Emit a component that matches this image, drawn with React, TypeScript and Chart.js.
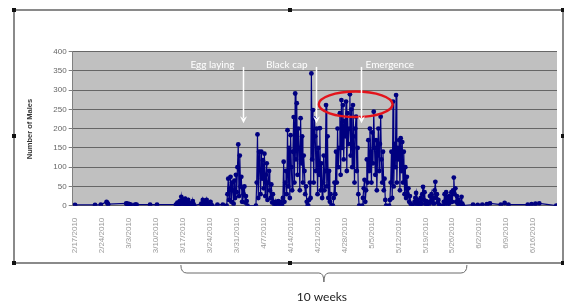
import React, { useEffect, useRef } from 'react';
import { Chart, registerables } from 'chart.js';

Chart.register(...registerables);

// ---- Data ----
const weekLabels = [
  '2/17/2010', '2/24/2010', '3/3/2010', '3/10/2010', '3/17/2010', '3/24/2010',
  '3/31/2010', '4/7/2010', '4/14/2010', '4/21/2010', '4/28/2010', '5/5/2010',
  '5/12/2010', '5/19/2010', '5/26/2010', '6/2/2010', '6/9/2010', '6/16/2010',
];
const yTickValues = [0, 50, 100, 150, 200, 250, 300, 350, 400];

// readings are taken every 0.2 day inside a burst; burst start = days after 2/17/2010
const READING_STEP_DAYS = 0.2;
const burstStartDay = [
  0, 5.2, 6.7, 8.2, 13.3, 15.6, 19.5, 21.3, 26.2, 32.8, 37.0, 38.4,
  39.4, 47.0, 53.8, 60.6, 67.0, 74.6, 81.6, 88.0, 95.6,
  103.4, 104.6, 105.8, 107.0, 107.8, 110.6, 111.6, 112.6, 117.6, 118.6, 119.6, 120.6, 125.0,
];
const burstCounts: number[][] = [
  [2], [2], [3], [10, 7, 4], [6, 3, 5, 2, 4, 2, 3], [3, 2, 3], [3], [3],
  [3, 0, 8, 0, 5, 12, 0, 23, 6, 15, 0, 10, 18, 4, 0, 8, 15, 2, 0, 6, 3, 0, 12, 4, 0],
  [5, 0, 15, 8, 0, 12, 3, 15, 0, 6, 2, 0, 10, 3, 0],
  [3], [3],
  // 3/31
  [0, 30, 70, 15, 45, 75, 10, 60, 40, 5, 65, 20, 80, 35, 100, 159, 25, 130, 50, 75, 10, 45, 30, 50, 8, 25, 12, 0],
  // 4/7
  [0, 60, 185, 20, 140, 95, 30, 140, 70, 118, 45, 135, 25, 80, 110, 15, 60, 90, 40, 20, 55, 8, 30, 10, 0, 5, 10, 3, 8, 12, 2, 6, 10, 0],
  // 4/14
  [0, 20, 114, 10, 60, 90, 30, 196, 50, 150, 20, 183, 100, 40, 140, 230, 60, 291, 120, 266, 80, 200, 150, 40, 227, 110, 180, 60, 130, 90, 30, 50, 10, 0],
  // 4/21
  [0, 15, 60, 20, 343, 120, 248, 60, 226, 180, 90, 200, 30, 150, 80, 201, 40, 110, 20, 60, 130, 40, 90, 261, 50, 180, 20, 90, 10, 30, 0],
  // 4/28
  [0, 20, 60, 30, 140, 60, 200, 100, 150, 240, 80, 274, 150, 261, 120, 220, 180, 270, 90, 240, 160, 200, 289, 130, 250, 100, 261, 180, 60, 200, 231, 90, 150, 30, 0],
  // 5/5
  [0, 20, 45, 67, 10, 40, 120, 60, 170, 90, 200, 140, 60, 190, 110, 244, 150, 80, 170, 40, 130, 200, 90, 160, 231, 120, 60, 140, 40, 70, 15, 0],
  // 5/12
  [0, 15, 60, 140, 20, 270, 50, 160, 100, 287, 60, 150, 120, 170, 40, 175, 90, 165, 60, 140, 30, 100, 20, 75, 30, 45, 10, 25, 5, 0],
  // 5/19
  [0, 10, 20, 33, 5, 15, 0, 8, 0, 20, 5, 30, 49, 15, 35, 5, 12, 0, 6, 0, 10, 25, 8, 30, 12, 20, 5, 40, 62, 20, 30, 8, 15, 3, 0],
  // 5/26
  [0, 10, 30, 5, 35, 12, 20, 3, 25, 8, 15, 35, 10, 40, 73, 30, 45, 10, 25, 5, 15, 3, 8, 0, 23, 5, 0],
  // June
  [3], [2], [3], [4], [6], [3], [7], [3], [3], [4], [5], [6], [0],
];

const annotationLabels = ['Egg laying', 'Black cap', 'Emergence'];
const annotationDays = [43.6, 62.6, 74.2];
const annotationTextSide = ['left', 'left', 'right'];
const annotationTextValue = 366;
const arrowTopValue = 360;
const arrowTipValue = 214;
const highlightDay = 72.9;
const highlightValue = 263;
const highlightHalfDays = 9.6;
const highlightHalfValue = 33;
const spanStartDay = 27.5;
const spanEndDay = 101.8;
const spanLabel = '10 weeks';
const yAxisTitle = 'Number of Males';

const points: { x: number; y: number }[] = [];
burstStartDay.forEach((start, b) => {
  burstCounts[b].forEach((count, j) => {
    points.push({ x: +(start + j * READING_STEP_DAYS).toFixed(2), y: count });
  });
});

const decorPlugin = {
  id: 'decor',
  beforeDraw(chart: any) {
    const { ctx, chartArea: a } = chart;
    ctx.save();
    ctx.fillStyle = '#ffffff';
    ctx.fillRect(0, 0, chart.width, chart.height);
    ctx.fillStyle = '#c0c0c0';
    ctx.fillRect(a.left, a.top, a.right - a.left, a.bottom - a.top);
    ctx.restore();
  },
  afterDraw(chart: any) {
    const { ctx } = chart;
    const xs = chart.scales.x;
    const ys = chart.scales.y;
    ctx.save();

    // red highlight ellipse
    const cx = xs.getPixelForValue(highlightDay);
    const cy = ys.getPixelForValue(highlightValue);
    const rx = xs.getPixelForValue(highlightDay + highlightHalfDays) - cx;
    const ry = ys.getPixelForValue(highlightValue - highlightHalfValue) - cy;
    ctx.strokeStyle = '#e3141c';
    ctx.lineWidth = 2.5;
    ctx.beginPath();
    ctx.ellipse(cx, cy, rx, ry, 0, 0, Math.PI * 2);
    ctx.stroke();

    // arrows and labels
    annotationLabels.forEach((label, i) => {
      const x = Math.round(xs.getPixelForValue(annotationDays[i])) + 0.5;
      const y0 = ys.getPixelForValue(arrowTopValue);
      const y1 = ys.getPixelForValue(arrowTipValue);
      ctx.strokeStyle = '#ffffff';
      ctx.fillStyle = '#ffffff';
      ctx.lineWidth = 1.5;
      ctx.beginPath();
      ctx.moveTo(x, y0);
      ctx.lineTo(x, y1 - 5);
      ctx.stroke();
      ctx.beginPath();
      ctx.moveTo(x - 3.5, y1 - 7);
      ctx.lineTo(x, y1 - 4.5);
      ctx.lineTo(x + 3.5, y1 - 7);
      ctx.lineTo(x, y1);
      ctx.closePath();
      ctx.fill();
      ctx.font = '10px Lato, "Open Sans", sans-serif';
      ctx.textBaseline = 'middle';
      const ty = ys.getPixelForValue(annotationTextValue);
      if (annotationTextSide[i] === 'left') {
        ctx.textAlign = 'right';
        ctx.fillText(label, x - 9, ty);
      } else {
        ctx.textAlign = 'left';
        ctx.fillText(label, x + 4, ty);
      }
    });

    // y axis title
    ctx.save();
    ctx.translate(30, 129);
    ctx.rotate(-Math.PI / 2);
    ctx.font = 'bold 7.5px Arial, "Liberation Sans", sans-serif';
    ctx.fillStyle = '#333333';
    ctx.textAlign = 'center';
    ctx.textBaseline = 'middle';
    ctx.fillText(yAxisTitle, 0, 0);
    ctx.restore();

    // frame
    ctx.strokeStyle = '#8a8a8a';
    ctx.lineWidth = 2;
    ctx.strokeRect(14, 10, 549, 253);
    ctx.fillStyle = '#111111';
    const handles = [
      [14, 10], [290, 10], [563, 10], [14, 136], [563, 136], [14, 263], [290, 263], [563, 263],
    ];
    handles.forEach(([hx, hy]) => ctx.fillRect(hx - 2, hy - 2, 4, 4));

    // curly bracket
    const bx0 = xs.getPixelForValue(spanStartDay);
    const bx1 = xs.getPixelForValue(spanEndDay);
    const bm = (bx0 + bx1) / 2;
    const top = 265;
    const mid = 273;
    const tip = 282;
    ctx.strokeStyle = '#6b6b6b';
    ctx.lineWidth = 1;
    ctx.beginPath();
    ctx.moveTo(bx0, top);
    ctx.quadraticCurveTo(bx0, mid, bx0 + 6, mid);
    ctx.lineTo(bm - 5, mid);
    ctx.quadraticCurveTo(bm, mid, bm, tip);
    ctx.quadraticCurveTo(bm, mid, bm + 5, mid);
    ctx.lineTo(bx1 - 6, mid);
    ctx.quadraticCurveTo(bx1, mid, bx1, top);
    ctx.stroke();

    ctx.fillStyle = '#222222';
    ctx.font = '12px Lato, "Open Sans", sans-serif';
    ctx.textAlign = 'center';
    ctx.textBaseline = 'middle';
    ctx.fillText(spanLabel, bm - 2, 297);

    ctx.restore();
  },
};

export default function App() {
  const canvasRef = useRef<HTMLCanvasElement | null>(null);

  useEffect(() => {
    if (!canvasRef.current) return;
    const chart = new Chart(canvasRef.current, {
      type: 'line',
      data: {
        datasets: [
          {
            label: 'Males',
            data: points,
            borderColor: '#000080',
            borderWidth: 1.2,
            backgroundColor: '#000080',
            pointRadius: 2.4,
            pointBorderWidth: 0,
            pointBackgroundColor: '#000080',
            tension: 0,
          },
        ],
      },
      options: {
        animation: false,
        responsive: false,
        events: [],
        layout: { padding: { left: 14, top: 51.5, right: 7, bottom: 46.3 } },
        plugins: { legend: { display: false }, tooltip: { enabled: false } },
        scales: {
          x: {
            type: 'linear',
            min: -0.6,
            max: 125.2,
            afterBuildTicks: (scale: any) => {
              scale.ticks = weekLabels.map((_, i) => ({ value: i * 7 }));
            },
            afterFit: (scale: any) => {
              scale.height = 55;
            },
            ticks: {
              autoSkip: false,
              minRotation: 90,
              maxRotation: 90,
              padding: 4,
              color: '#9a9a9a',
              font: { size: 8, family: 'Arial, "Liberation Sans", sans-serif' },
              callback: (_v: any, i: number) => weekLabels[i],
            },
            grid: { display: false },
            border: { display: false },
          },
          y: {
            min: 0,
            max: 400,
            afterBuildTicks: (scale: any) => {
              scale.ticks = yTickValues.map((v) => ({ value: v }));
            },
            afterFit: (scale: any) => {
              scale.width = 58.7;
            },
            ticks: {
              padding: 2,
              color: '#666666',
              font: { size: 8, family: 'Arial, "Liberation Sans", sans-serif' },
            },
            grid: { color: '#666666', lineWidth: 1, tickLength: 4, tickColor: '#808080' },
            border: { color: '#808080' },
          },
        },
      },
      plugins: [decorPlugin],
    });
    return () => chart.destroy();
  }, []);

  return (
    <div style={{ position: 'fixed', left: 0, top: 0, width: 564, height: 307, background: '#fff' }}>
      <canvas ref={canvasRef} width={564} height={307} style={{ display: 'block' }} />
    </div>
  );
}
